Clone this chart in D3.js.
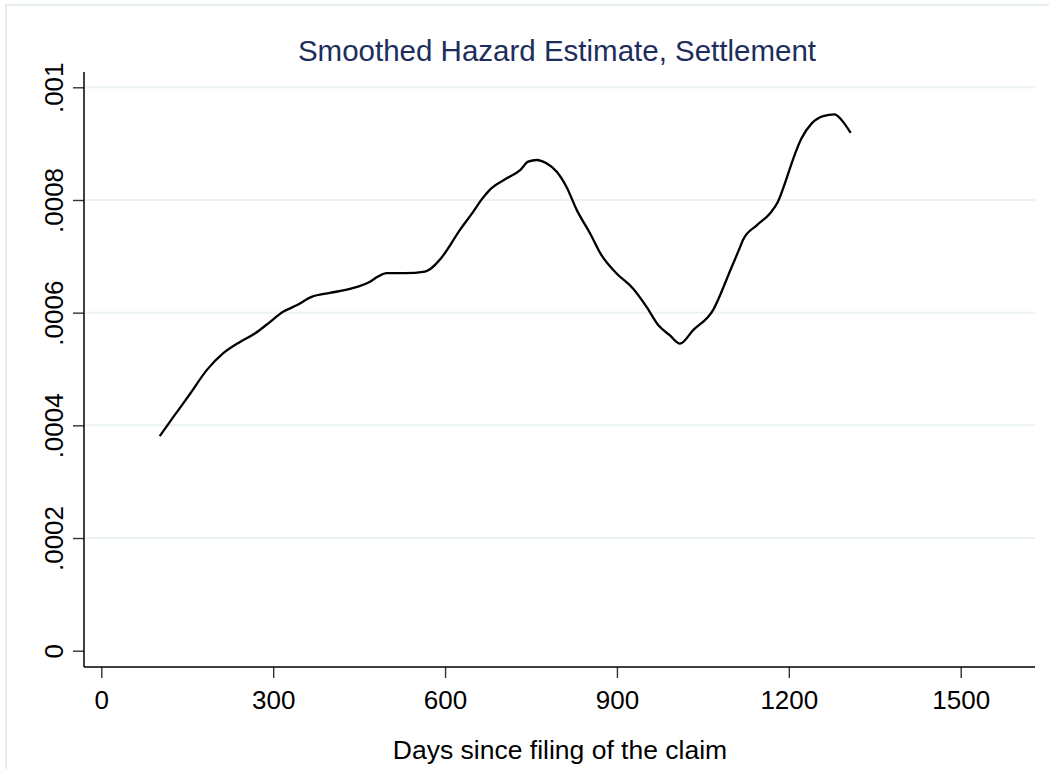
<!DOCTYPE html>
<html>
<head>
<meta charset="utf-8">
<script src="https://cdn.jsdelivr.net/npm/d3@7"></script>
<style>
  html, body { margin: 0; padding: 0; background: #ffffff; }
  svg { display: block; }
  text { font-family: "Liberation Sans", Arial, Helvetica, sans-serif; }
</style>
</head>
<body>
<script>
// ---- data ----
const days = [102, 128, 143, 155, 184, 213, 242, 268, 289, 318, 341, 367, 399, 437, 469, 483, 498, 530, 565, 594, 626, 649, 664, 678, 707, 731, 745, 760, 777, 795, 812, 830, 853, 873, 899, 928, 952, 972, 992, 1010, 1033, 1068, 1091, 1097, 1114, 1120, 1144, 1167, 1181, 1196, 1208, 1222, 1240, 1260, 1280, 1292, 1308];
const hazard = [0.000381, 0.000418, 0.000439, 0.000456, 0.000498, 0.000528, 0.000548, 0.000563, 0.000579, 0.000602, 0.000613, 0.000628, 0.000635, 0.000643, 0.000655, 0.000664, 0.000670, 0.000670, 0.000673, 0.000698, 0.000747, 0.000779, 0.000801, 0.000818, 0.000838, 0.000853, 0.000868, 0.000871, 0.000865, 0.000850, 0.000823, 0.000782, 0.000741, 0.000702, 0.000670, 0.000643, 0.000610, 0.000578, 0.000560, 0.000545, 0.000569, 0.000605, 0.000658, 0.000673, 0.000714, 0.000729, 0.000755, 0.000776, 0.000797, 0.000838, 0.000874, 0.000909, 0.000936, 0.000949, 0.000952, 0.000942, 0.000919];
const xTicks = [0, 300, 600, 900, 1200, 1500];
const yTicks = [0, 0.0002, 0.0004, 0.0006, 0.0008, 0.001];
const yTickLabels = ["0", ".0002", ".0004", ".0006", ".0008", ".001"];
const gridValues = [0.0002, 0.0004, 0.0006, 0.0008, 0.001];
const titleText = "Smoothed Hazard Estimate, Settlement";
const xTitleText = "Days since filing of the claim";

// ---- layout ----
const W = 1049, H = 769;
const svg = d3.select("body").append("svg").attr("width", W).attr("height", H);

const x = d3.scaleLinear().domain([0, 1500]).range([101.3, 960.7]);
const y = d3.scaleLinear().domain([0, 0.001]).range([650.7, 87.3]);
const plotLeft = 84, plotRight = 1035, plotTop = 72, plotBottom = 667;

// outer frame
svg.append("rect")
  .attr("x", 6).attr("y", 5)
  .attr("width", W + 20).attr("height", H + 20)
  .attr("fill", "none").attr("stroke", "#e6eef0").attr("stroke-width", 2);

// gridlines
svg.append("g").selectAll("line").data(gridValues).join("line")
  .attr("x1", plotLeft + 1).attr("x2", plotRight)
  .attr("y1", d => y(d)).attr("y2", d => y(d))
  .attr("stroke", "#eaf2f3").attr("stroke-width", 2);

// y axis
const yAxis = d3.axisLeft(y).tickValues(yTicks).tickFormat((d, i) => yTickLabels[i]).tickSize(11).tickPadding(0);
const gy = svg.append("g").attr("transform", `translate(${plotLeft},0)`).call(yAxis);
gy.select(".domain").remove();
gy.selectAll(".tick line").attr("stroke", "#333").attr("stroke-width", 1.4);
gy.selectAll(".tick text").remove();
gy.selectAll(".tick").append("text")
  .attr("transform", "translate(-21,0) rotate(-90)")
  .attr("text-anchor", "middle")
  .attr("dy", 0)
  .attr("fill", "#000")
  .style("font-size", "26px")
  .text((d, i) => yTickLabels[i]);
svg.append("line")
  .attr("x1", plotLeft).attr("x2", plotLeft)
  .attr("y1", plotTop).attr("y2", plotBottom)
  .attr("stroke", "#000").attr("stroke-width", 1.5);

// x axis
const xAxis = d3.axisBottom(x).tickValues(xTicks).tickFormat(d3.format("d")).tickSize(11).tickPadding(0);
const gx = svg.append("g").attr("transform", `translate(0,${plotBottom})`).call(xAxis);
gx.select(".domain").remove();
gx.selectAll(".tick line").attr("stroke", "#333").attr("stroke-width", 1.4);
gx.selectAll(".tick text").remove();
gx.selectAll(".tick").append("text")
  .attr("y", 42)
  .attr("text-anchor", "middle")
  .attr("fill", "#000")
  .style("font-size", "26px")
  .text(d => d);
svg.append("line")
  .attr("x1", plotLeft).attr("x2", plotRight)
  .attr("y1", plotBottom).attr("y2", plotBottom)
  .attr("stroke", "#000").attr("stroke-width", 1.5);

// curve
const pts = days.map((d, i) => [d, hazard[i]]);
const line = d3.line().x(d => x(d[0])).y(d => y(d[1])).curve(d3.curveMonotoneX);
svg.append("path").datum(pts)
  .attr("d", line)
  .attr("fill", "none").attr("stroke", "#000").attr("stroke-width", 2.3)
  .attr("stroke-linejoin", "round");

// titles
svg.append("text")
  .attr("x", 557).attr("y", 60.5)
  .attr("text-anchor", "middle")
  .attr("fill", "#1e2d5c")
  .style("font-size", "29.5px")
  .text(titleText);

svg.append("text")
  .attr("x", 560).attr("y", 759)
  .attr("text-anchor", "middle")
  .attr("fill", "#000")
  .style("font-size", "26.5px")
  .text(xTitleText);
</script>
</body>
</html>
